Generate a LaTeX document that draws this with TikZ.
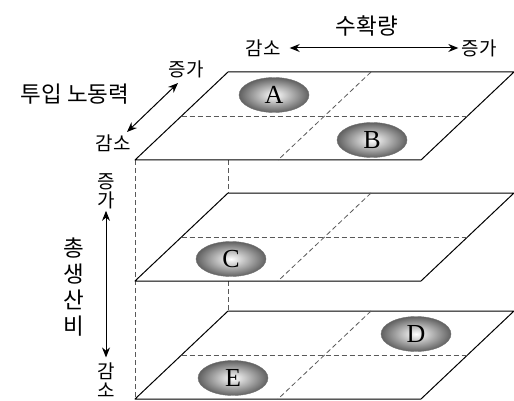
\documentclass[tikz,border=0pt]{standalone}
\usepackage{fontspec}
\setmainfont{Liberation Serif}
\newfontfamily\kr{Noto Sans CJK KR}
\usetikzlibrary{arrows.meta,shapes.geometric}
\begin{document}
\begin{tikzpicture}[x=1pt,y=-1pt,
  plane/.style={draw=black, line width=1pt, fill=white, line join=round},
  hid/.style={draw=black!65, dash pattern=on 5pt off 3pt, line width=0.8pt},
  ball/.style={ellipse, minimum width=70pt, minimum height=35pt, inner sep=0pt, shade, inner color=white, outer color=black!62, draw=black!55, line width=0.4pt, font=\fontsize{26}{26}\selectfont},
  lab/.style={font=\kr\fontsize{19}{19}\selectfont, inner sep=0pt, align=center},
  ttl/.style={font=\kr\fontsize{22.5}{26}\selectfont, inner sep=0pt, align=center},
  arr/.style={{Stealth[length=10pt,width=8pt]}-{Stealth[length=10pt,width=8pt]}, line width=1pt}
]
\useasboundingbox (0,0) rectangle (514,401);
% hidden vertical edges
\draw[hid] (135,160) -- (135,399);
\draw[hid] (228,160) -- (228,193);
\draw[hid] (228,281) -- (228,311);
% planes
\foreach \f/\b in {160/72, 281/193, 399/311} {
  \pgfmathsetmacro{\m}{(\f+\b)/2}
  \draw[plane] (135,\f) -- (421,\f) -- (514,\b) -- (228,\b) -- cycle;
  \draw[hid] (181.5,\m) -- (467.5,\m);
  \draw[hid] (371,\b) -- (278,\f);
}
% balls
\node[ball] (A) at (274,95) {A};
\node[ball] (B) at (372,140) {B};
\node[ball] (C) at (231,259) {C};
\node[ball] (D) at (416,334) {D};
\node[ball] (E) at (233,378) {E};
% top axis
\node[ttl] (yield) at (367,26) {수확량};
\node[lab] (ydec) at (263,48) {감소};
\node[lab] (yinc) at (479,48) {증가};
\draw[arr, shorten <=9pt, shorten >=3pt] (ydec.east) -- (yinc.west);
% labour axis
\node[ttl] (labour) at (75,94) {투입 노동력};
\node[lab] (linc) at (186,69) {증가};
\node[lab] (ldec) at (113,143) {감소};
\coordinate (la1) at (127,132);
\coordinate (la2) at (178,83);
\draw[arr] (la1) -- (la2);
% cost axis
\node[ttl] (cost) at (74,287) {총\\생\\산\\비};
\node[lab] (cinc) at (106,191) {증\\가};
\node[lab] (cdec) at (106,380) {감\\소};
\draw[arr, shorten <=2pt, shorten >=5pt] (cinc.south) -- (cdec.north);
\end{tikzpicture}
\end{document}
